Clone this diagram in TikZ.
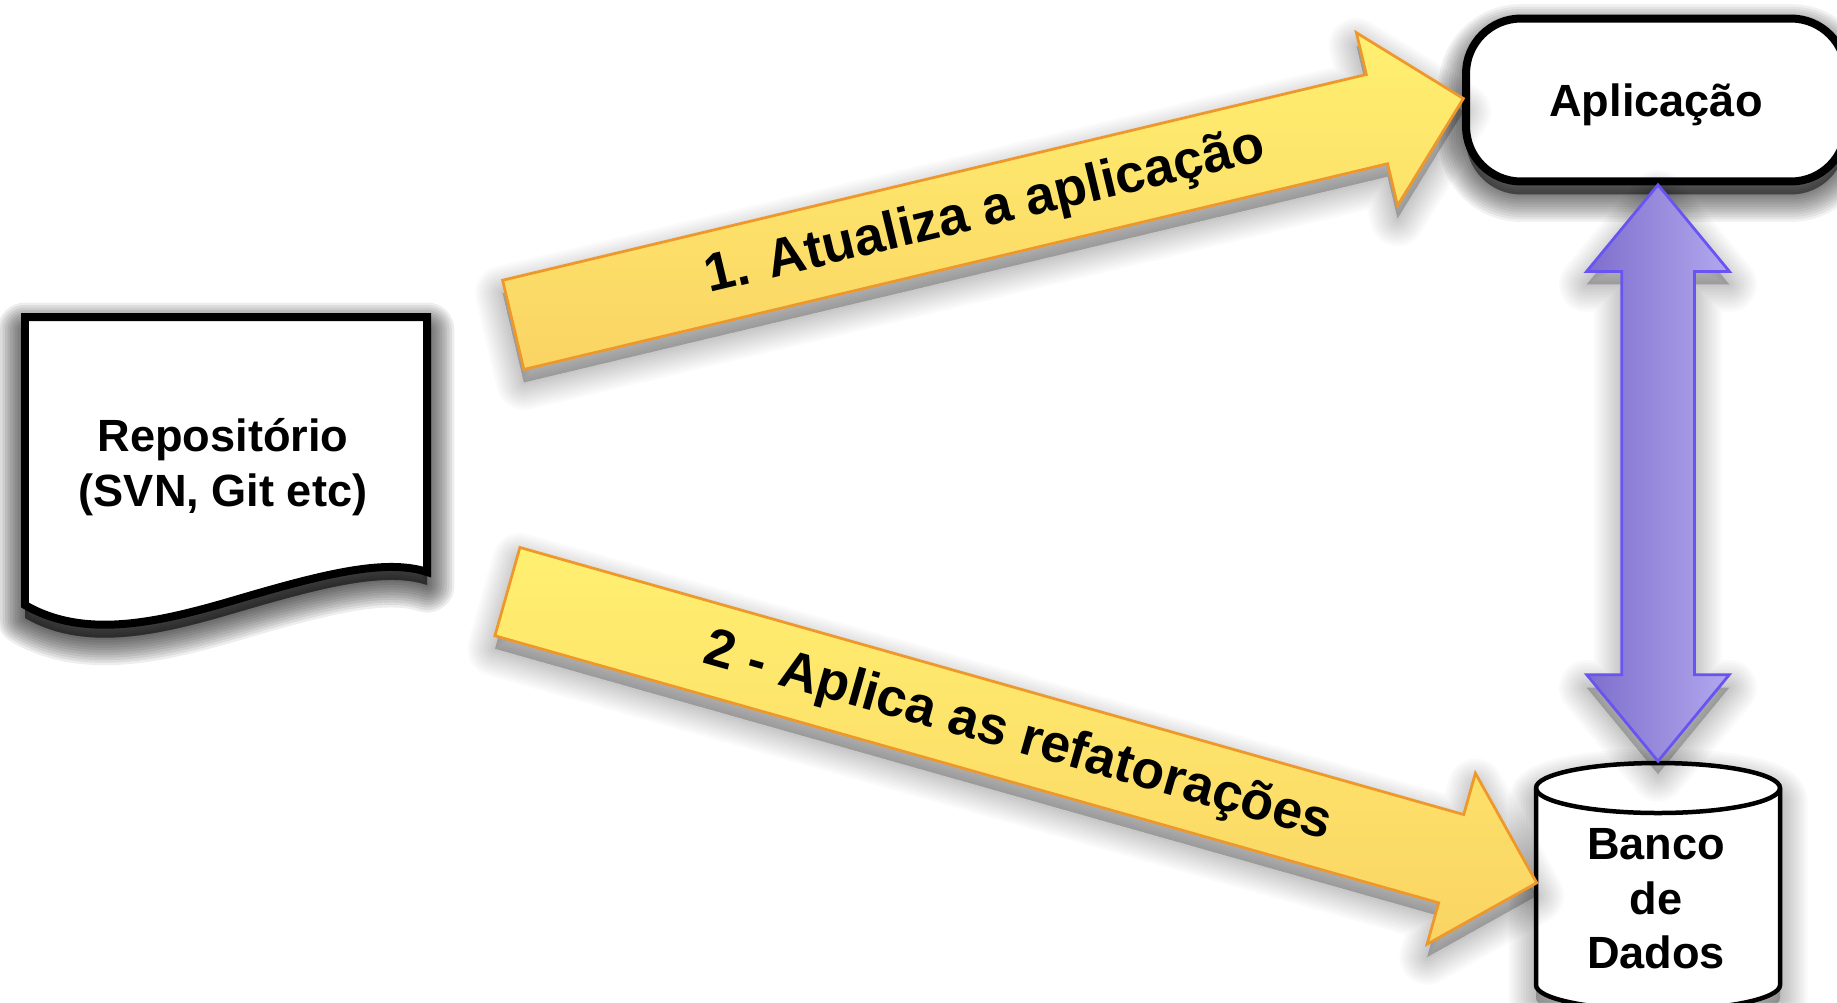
\documentclass[tikz,border=0pt]{standalone}
\usepackage{fontspec}
\setmainfont{Liberation Sans}
\usetikzlibrary{shapes.arrows}
\tikzset{
  softlayer/.style 2 args={preaction={draw=black,fill=black,line join=round,opacity=#1,line width=#2,transform canvas={yshift=-0.26cm}}},
  softa/.style={softlayer={#1}{1.1cm},softlayer={#1}{1.0cm},softlayer={#1}{0.9cm},softlayer={#1}{0.8cm},softlayer={#1}{0.7cm},softlayer={#1}{0.6cm},
    softlayer={#1}{0.5cm},softlayer={#1}{0.4cm},softlayer={#1}{0.3cm},softlayer={#1}{0.2cm},softlayer={#1}{0.1cm}},
  labeltext/.style={font=\fontsize{25.7pt}{31pt}\selectfont\bfseries,text=black,align=center,inner sep=0pt},
  arrowtext/.style={font=\fontsize{30.5pt}{36pt}\selectfont\bfseries,text=black,inner sep=0pt},
  yellowarrow/.style={single arrow,draw={rgb,255:red,238;green,152;blue,44},line width=0.055cm,
    top color={rgb,255:red,255;green,240;blue,112},bottom color={rgb,255:red,250;green,212;blue,100},
    minimum width=3.5cm,single arrow head extend=0.86cm,single arrow tip angle=90,inner sep=0pt,
    softa=0.02},
  purplearrow/.style={double arrow,draw={rgb,255:red,104;green,84;blue,240},line width=0.055cm,
    left color={rgb,255:red,126;green,110;blue,204},right color={rgb,255:red,178;green,168;blue,238},
    rotate=90,minimum height=11.53cm,minimum width=2.82cm,double arrow head extend=0.7cm,double arrow tip angle=79,inner sep=0pt,
    softa=0.018},
  appbox/.style={draw=black,line width=0.16cm,fill=white,rounded corners=1.1cm,minimum width=7.6cm,minimum height=3.26cm,inner sep=0pt,softa=0.055},
  repopath/.style={draw=black,line width=0.16cm,fill=white,line join=miter,softa=0.07},
  dbpath/.style={draw=black,line width=0.09cm,fill=white,softa=0.025},
  dbrim/.style={draw=black,line width=0.09cm}
}
\begin{document}
\begin{tikzpicture}[x=0.02cm,y=-0.02cm]
\useasboundingbox[fill=white] (0,0) rectangle (1837,1002);
% repository
\draw[repopath] (25,317) -- (427,317) -- (427,572) .. controls (385,558) and (320,575) .. (235,600) .. controls (160,622) and (85,640) .. (25,605) -- cycle;
\node[labeltext] (repo) at (223,467) {Repositório\\(SVN, Git etc)};
% application
\node[appbox] (app) at (1656,100) {};
\node[labeltext] (applabel) at (1656,105) {Aplicação};
% database
\draw[dbpath] (1536,788) arc[start angle=180,end angle=0,x radius=122,y radius=-25] -- (1780,985) arc[start angle=0,end angle=-180,x radius=122,y radius=-25] -- cycle;
\draw[dbrim] (1536,788) arc[start angle=180,end angle=360,x radius=122,y radius=-25];
\node[labeltext] (db) at (1656,899) {Banco\\de\\Dados};
% arrows
\node[yellowarrow,rotate=13.4,minimum height=19.54cm] (up) at (966,217) {\rule{0pt}{1.78cm}};
\node[arrowtext,rotate=13.4] (uplabel) at (985,213) {1. Atualiza a aplicação};
\node[yellowarrow,rotate=-15.8,minimum height=21.4cm] (down) at (1000,731) {\rule{0pt}{1.78cm}};
\node[arrowtext,rotate=-15.8] (downlabel) at (1018,738) {2 - Aplica as refatorações};
\node[purplearrow] (sync) at (1658,473) {\rule{0pt}{1.4cm}};
\end{tikzpicture}
\end{document}
